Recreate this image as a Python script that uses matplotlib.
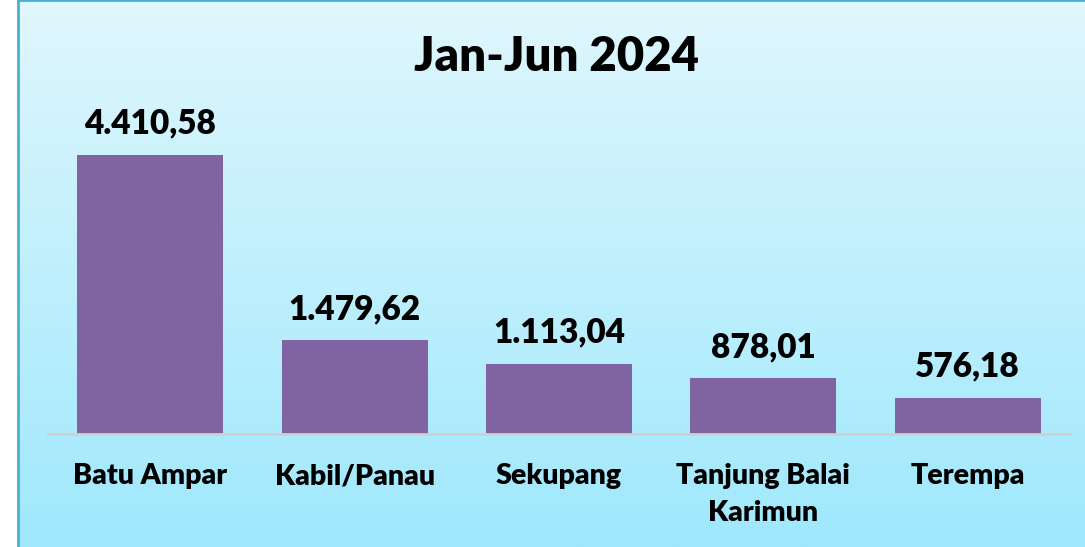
import matplotlib
matplotlib.use("Agg")
import matplotlib.pyplot as plt
import numpy as np

categories = ["Batu Ampar", "Kabil/Panau", "Sekupang", "Tanjung Balai\nKarimun", "Terempa"]
values = [4410.58, 1479.62, 1113.04, 878.01, 576.18]
labels = ["4.410,58", "1.479,62", "1.113,04", "878,01", "576,18"]
title = "Jan-Jun 2024"

W, H = 1085, 547
fig = plt.figure(figsize=(W / 100, H / 100), dpi=100)
fig.patch.set_facecolor("white")

# gradient background panel
bg = fig.add_axes([18 / W, 0, 1 - 18 / W, 1])
bg.set_xlim(0, 1); bg.set_ylim(0, 1)
grad = np.linspace(0, 1, 256).reshape(-1, 1)
top = np.array([0xe0, 0xf7, 0xfd]) / 255
bot = np.array([0x9f, 0xe8, 0xfc]) / 255
img = top[None, None, :] * (1 - grad[:, :, None]) + bot[None, None, :] * grad[:, :, None]
bg.imshow(img, aspect="auto", extent=[0, 1, 0, 1], origin="upper")
for s in bg.spines.values():
    s.set_color("#4aafd0"); s.set_linewidth(2)
bg.spines["right"].set_visible(False)
bg.spines["bottom"].set_visible(False)
bg.set_xticks([]); bg.set_yticks([])

FW = "heavy"
ax = fig.add_axes([48 / W, (H - 434) / H, (1070 - 48) / W, (434 - 100) / H])
ax.patch.set_alpha(0)
x = np.arange(len(categories))
bars = ax.bar(x, values, width=0.715, color="#8064a2")
ax.set_xlim(-0.5, len(categories) - 0.5)
ax.set_ylim(0, 334 / (279 / 4410.58))
for s in ["top", "right", "left"]:
    ax.spines[s].set_visible(False)
ax.spines["bottom"].set_color("#d0d0d0")
ax.spines["bottom"].set_linewidth(2)
ax.set_yticks([])
ax.set_xticks(x)
ax.set_xticklabels(categories, fontsize=20.5, fontweight=FW, family="Lato", linespacing=1.5, va="top")
ax.tick_params(axis="x", length=0, pad=21)
for xi, v, lab in zip(x, values, labels):
    ax.annotate(lab, (xi, v), xytext=(0, 11), textcoords="offset points",
                ha="center", va="bottom", fontsize=24, fontweight=FW, family="Lato")

fig.text(557 / W, 1 - 57 / H, title, ha="center", va="center", fontsize=34, fontweight=FW, family="Lato")

fig.savefig("out.png", dpi=100)
